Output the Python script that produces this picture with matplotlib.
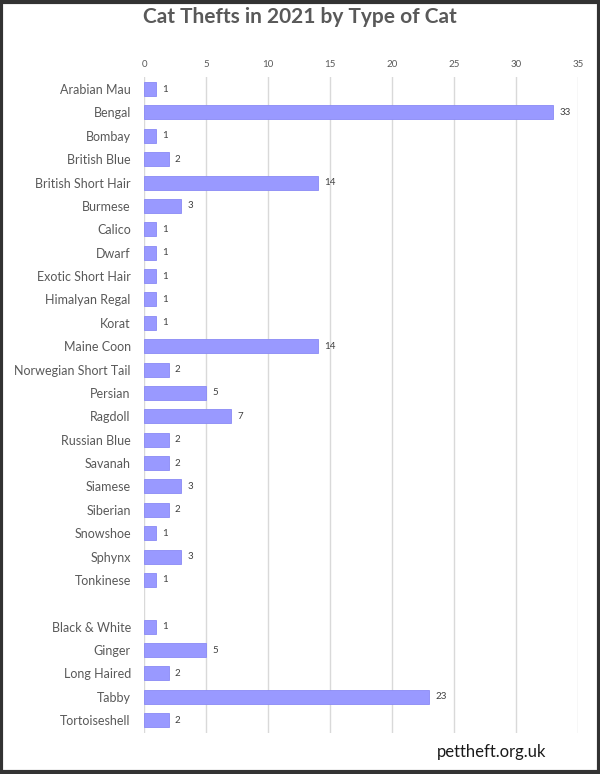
import matplotlib.pyplot as plt
import numpy as np

# Data (blank entry keeps the gap between breeds and colours)
cats = ["Arabian Mau", "Bengal", "Bombay", "British Blue", "British Short Hair",
        "Burmese", "Calico", "Dwarf", "Exotic Short Hair", "Himalyan Regal",
        "Korat", "Maine Coon", "Norwegian Short Tail", "Persian", "Ragdoll",
        "Russian Blue", "Savanah", "Siamese", "Siberian", "Snowshoe", "Sphynx",
        "Tonkinese", "", "Black & White", "Ginger", "Long Haired", "Tabby",
        "Tortoiseshell"]
thefts = [1, 33, 1, 2, 14, 3, 1, 1, 1, 1, 1, 14, 2, 5, 7, 2, 2, 3, 2, 1, 3, 1,
          None, 1, 5, 2, 23, 2]
x_ticks = [0, 5, 10, 15, 20, 25, 30, 35]

plt.rcParams['font.family'] = ['Lato', 'DejaVu Sans']

fig = plt.figure(figsize=(6, 7.74), dpi=100)
ax = fig.add_axes([0.24, 0.053, 0.7233, 0.847])

y = np.arange(len(cats))
vals = [v if v is not None else 0 for v in thefts]
mask = [v is not None for v in thefts]

bars = ax.barh(y[mask], np.array(vals)[mask], height=0.6, color='#9999ff',
               edgecolor='#8a8af5', linewidth=0.6, zorder=3)
for yi, v in zip(y[mask], np.array(vals)[mask]):
    ax.text(v + 0.5, yi, str(v), va='center', ha='left', fontsize=7,
            color='#404040')

ax.set_ylim(len(cats) - 0.45, -0.5)
ax.set_xlim(0, 35)
ax.set_yticks(y)
ax.set_yticklabels(cats, fontsize=9, color='#595959')
ax.set_xticks(x_ticks)
ax.xaxis.tick_top()
ax.tick_params(axis='x', labelsize=7, colors='#595959', length=0, pad=6)
ax.tick_params(axis='y', length=0, pad=9.5)
ax.grid(axis='x', color='#d9d9d9', linewidth=1, zorder=0)
for s in ax.spines.values():
    s.set_visible(False)

fig.text(0.5, 0.978, "Cat Thefts in 2021 by Type of Cat", ha='center',
         va='center', fontsize=15, fontweight='bold', color='#595959')
fig.text(0.82, 0.029, "pettheft.org.uk", ha='center', va='center',
         fontsize=12, color='#1a1a1a')

# dark frame round the picture
fig.add_artist(plt.Rectangle((0.002, 0.002), 0.996, 0.996, transform=fig.transFigure,
                             fill=False, edgecolor='#333333', linewidth=3))

fig.savefig("out.png", dpi=100)
